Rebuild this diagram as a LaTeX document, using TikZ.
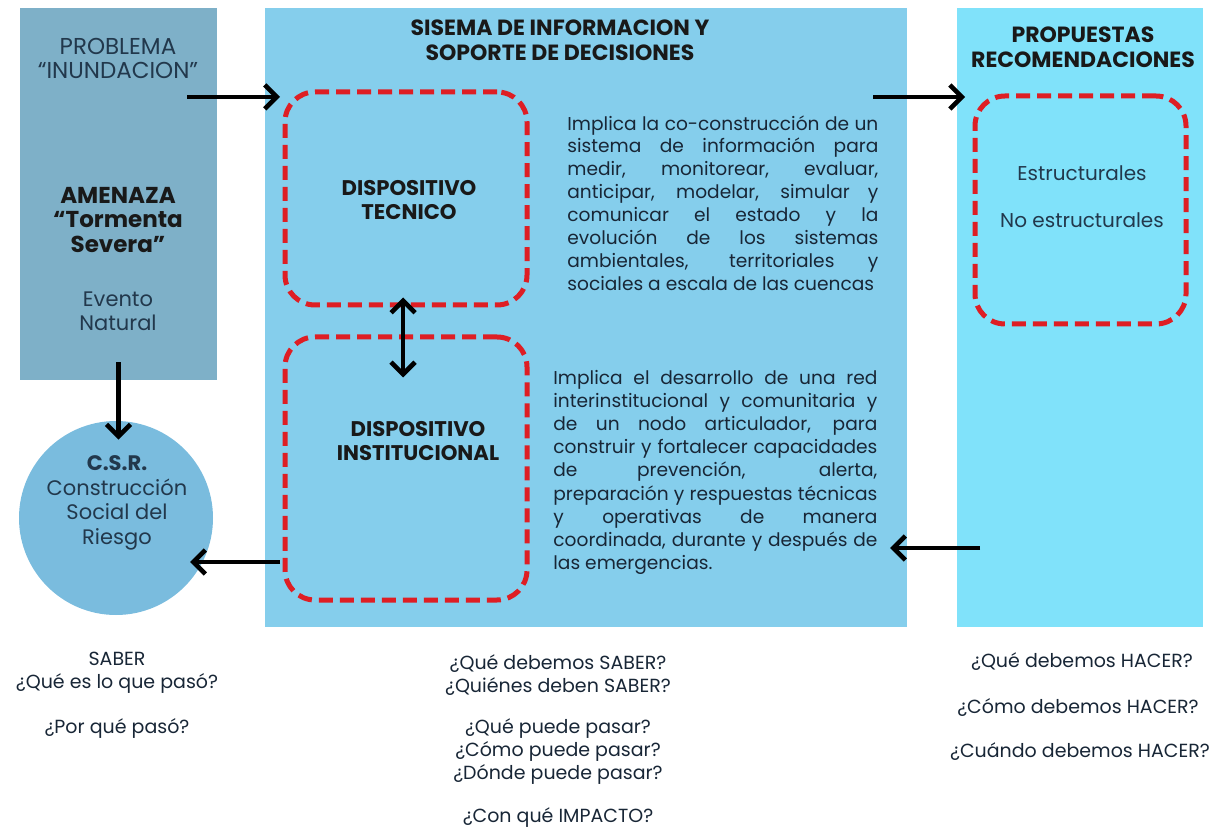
\documentclass[tikz,border=0pt]{standalone}
\usepackage{fontspec}
\setmainfont{Poppins}
\usetikzlibrary{arrows.meta}
\definecolor{amenazafill}{RGB}{126,176,200}
\definecolor{sistemafill}{RGB}{133,206,236}
\definecolor{propfill}{RGB}{128,226,250}
\definecolor{csrfill}{RGB}{122,188,222}
\definecolor{dashred}{RGB}{222,30,36}
\definecolor{ink}{RGB}{24,38,54}
\definecolor{softink}{RGB}{34,56,76}
\tikzset{>/.tip={Straight Barb[length=6pt,width=12pt]},
  panel/.style={draw=none, inner sep=0pt},
  dashbox/.style={draw=dashred, line width=2.5pt, dash pattern=on 7pt off 3.5pt, rounded corners=15pt, inner sep=0pt},
  flow/.style={->, line width=2.3pt, black},
  head/.style={font=\fontsize{11}{12.5}\selectfont\bfseries, text=black!90, align=center},
  plain/.style={font=\fontsize{11.5}{12}\selectfont, text=softink, align=center},
  para/.style={font=\fontsize{9.3}{11.45}\selectfont, text=ink, align=justify, inner sep=0pt, anchor=north west},
  quest/.style={font=\fontsize{9.5}{11.5}\selectfont, text=ink, align=center}}

\begin{document}
\begin{tikzpicture}[x=0.5pt,y=-0.5pt]
\useasboundingbox (0,0) rectangle (1215,833);
\tolerance=10000 \hyphenpenalty=10000

% paneles
\node[panel, fill=amenazafill, minimum width=98.5pt, minimum height=186pt] (amenaza) at (118.5,194) {};
\node[panel, fill=sistemafill, minimum width=321pt, minimum height=309.5pt] (sistema) at (586,317.5) {};
\node[panel, fill=propfill, minimum width=123pt, minimum height=309.5pt] (propuestas) at (1080,317.5) {};
\node[panel, circle, fill=csrfill, minimum size=97pt] (csr) at (116,518) {};

\node[dashbox, minimum width=121pt, minimum height=106.5pt] (tecnico) at (406,198.5) {};
\node[dashbox, minimum width=121pt, minimum height=131.5pt] (institucional) at (406,468.5) {};
\node[dashbox, minimum width=105.5pt, minimum height=114pt] (estruct) at (1080.5,210) {};

% textos izquierda
\node[plain] (problema) at (118,58) {PROBLEMA\\“INUNDACION”};
\node[plain, font=\fontsize{11.5}{12.3}\selectfont\bfseries, text=black!90] (tormenta) at (118,220) {AMENAZA\\“Tormenta\\Severa”};
\node[plain, font=\fontsize{10.5}{12}\selectfont] (evento) at (118,311) {Evento\\Natural};
\node[plain, font=\fontsize{10.5}{12.3}\selectfont] (csrtxt) at (117,503) {\textbf{C.S.R.}\\Construcción\\Social del\\Riesgo};

% textos centro
\node[head] (titulo) at (560,40) {SISEMA DE INFORMACION Y\\SOPORTE DE DECISIONES};
\node[head, font=\fontsize{10.6}{11.8}\selectfont\bfseries] (tectxt) at (409,200) {DISPOSITIVO\\TECNICO};
\node[head, font=\fontsize{10.6}{11.8}\selectfont\bfseries] (insttxt) at (418,441) {DISPOSITIVO\\INSTITUCIONAL};
\node[para, text width=155.5pt] (parrtec) at (567,115) {Implica la co-construcción de un\linebreak
sistema de información para\linebreak
medir, monitorear, evaluar,\linebreak
anticipar, modelar, simular y\linebreak
comunicar el estado y la\linebreak
evolución de los sistemas\linebreak
ambientales, territoriales y\linebreak
sociales a escala de las cuencas};
\node[para, text width=162pt, font=\fontsize{9.3}{11.55}\selectfont] (parrinst) at (553,370) {Implica el desarrollo de una red\linebreak
interinstitucional y comunitaria y\linebreak
de un nodo articulador, para\linebreak
construir y fortalecer capacidades\linebreak
de prevención, alerta,\linebreak
preparación y respuestas técnicas\linebreak
y operativas de manera\linebreak
coordinada, durante y después de\linebreak
las emergencias.};

% textos derecha
\node[head] (proptxt) at (1083,47) {PROPUESTAS\\RECOMENDACIONES};
\node[plain, font=\fontsize{10}{11}\selectfont] (estr) at (1082,173) {Estructurales};
\node[plain, font=\fontsize{10}{11}\selectfont] (noestr) at (1082,220) {No estructurales};

% preguntas
\node[quest] (saber) at (117,673) {SABER\\¿Qué es lo que pasó?};
\node[quest] (porque) at (117,728) {¿Por qué pasó?};
\node[quest] (qdeb) at (558,675) {¿Qué debemos SABER?\\¿Quiénes deben SABER?};
\node[quest] (qpuede) at (558,752) {¿Qué puede pasar?\\¿Cómo puede pasar?\\¿Dónde puede pasar?};
\node[quest] (impacto) at (558,818) {¿Con qué IMPACTO?};
\node[quest] (qhacer) at (1082,662) {¿Qué debemos HACER?};
\node[quest] (chacer) at (1078,707) {¿Cómo debemos HACER?};
\node[quest] (cuhacer) at (1080,752) {¿Cuándo debemos HACER?};

% flechas
\coordinate (entra) at (187,97);
\coordinate (entra-fin) at (280,97);
\coordinate (sale) at (873,97);
\coordinate (sale-fin) at (965,97);
\coordinate (vuelve) at (980,548);
\coordinate (vuelve-fin) at (890,548);
\coordinate (riesgo) at (280,562);
\coordinate (riesgo-fin) at (190,562);
\draw[flow] (entra) -- (entra-fin);
\draw[flow] (sale) -- (sale-fin);
\draw[flow] (vuelve) -- (vuelve-fin);
\draw[flow] (riesgo) -- (riesgo-fin);
\draw[flow] ([yshift=9pt]amenaza.south) -- ([yshift=-9.5pt]amenaza.south |- csr.north);
\draw[flow, <->] ([xshift=-1.5pt,yshift=5pt]tecnico.south) -- ([xshift=-1.5pt,yshift=-21.5pt]institucional.north);
\end{tikzpicture}
\end{document}
